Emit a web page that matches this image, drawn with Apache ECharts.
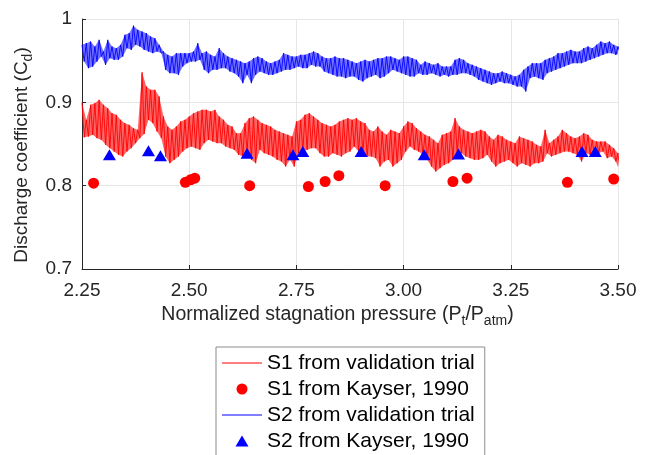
<!DOCTYPE html>
<html>
<head>
<meta charset="utf-8">
<script src="https://cdn.jsdelivr.net/npm/echarts@6/dist/echarts.min.js"></script>
<style>html,body{margin:0;padding:0;background:#fff}#c{width:645px;height:455px}</style>
</head>
<body>
<div id="c"></div>
<script>
// Sample positions (normalized stagnation pressure) for the trial traces
const sampleX = [
2.25,2.26,2.27,2.28,2.29,2.30,2.31,2.32,2.33,2.34,2.35,2.36,2.37,2.38,2.39,2.40,2.41,2.42,2.43,2.44,
2.45,2.46,2.47,2.48,2.49,2.50,2.51,2.52,2.53,2.54,2.55,2.56,2.57,2.58,2.59,2.60,2.61,2.62,2.63,2.64,
2.65,2.66,2.67,2.68,2.69,2.70,2.71,2.72,2.73,2.74,2.75,2.76,2.77,2.78,2.79,2.80,2.81,2.82,2.83,2.84,
2.85,2.86,2.87,2.88,2.89,2.90,2.91,2.92,2.93,2.94,2.95,2.96,2.97,2.98,2.99,3.00,3.01,3.02,3.03,3.04,
3.05,3.06,3.07,3.08,3.09,3.10,3.11,3.12,3.13,3.14,3.15,3.16,3.17,3.18,3.19,3.20,3.21,3.22,3.23,3.24,
3.25,3.26,3.27,3.28,3.29,3.30,3.31,3.32,3.33,3.34,3.35,3.36,3.37,3.38,3.39,3.40,3.41,3.42,3.43,3.44,
3.45,3.46,3.47,3.48,3.49,3.50];

// S1 validation trial: upper and lower excursions of the noisy trace
const s1High = [
.900,.879,.897,.899,.903,.897,.893,.887,.885,.879,
.875,.873,.869,.867,.936,.919,.915,.915,.907,.883,
.871,.867,.871,.877,.879,.883,.887,.889,.891,.891,
.889,.891,.883,.879,.873,.871,.863,.863,.875,.881,
.883,.879,.875,.873,.871,.867,.865,.863,.861,.859,
.877,.879,.885,.887,.883,.879,.875,.873,.871,.873,
.877,.879,.881,.879,.881,.877,.875,.867,.865,.871,
.865,.861,.867,.865,.863,.871,.877,.875,.869,.865,
.861,.859,.855,.851,.861,.863,.865,.881,.871,.867,
.865,.863,.865,.867,.865,.859,.855,.861,.859,.855,
.853,.851,.859,.857,.855,.853,.849,.847,.867,.851,
.855,.859,.867,.863,.859,.857,.859,.863,.861,.855,
.853,.853,.853,.849,.845,.839];
const s1Low = [
.858,.859,.861,.857,.855,.849,.845,.841,.837,.835,
.841,.845,.851,.857,.862,.879,.875,.865,.857,.835,
.827,.831,.835,.841,.845,.847,.845,.843,.851,.855,
.853,.851,.851,.847,.845,.843,.837,.835,.841,.831,
.827,.843,.839,.837,.835,.831,.829,.823,.831,.823,
.839,.841,.843,.845,.845,.839,.835,.835,.839,.837,
.835,.839,.841,.847,.841,.839,.835,.835,.833,.823,
.829,.831,.823,.827,.831,.841,.847,.843,.841,.837,
.831,.823,.817,.821,.825,.827,.831,.839,.839,.835,
.833,.831,.831,.833,.837,.829,.823,.827,.829,.831,
.827,.823,.827,.825,.823,.827,.827,.829,.839,.835,
.837,.839,.841,.841,.839,.837,.829,.839,.837,.835,
.839,.841,.833,.835,.829,.815];

// S2 validation trial
const s2High = [
.969,.971,.973,.967,.975,.961,.975,.967,.965,.969,
.981,.983,.992,.987,.985,.983,.979,.977,.969,.961,
.957,.955,.959,.959,.959,.959,.961,.971,.959,.961,
.957,.955,.965,.959,.955,.953,.951,.949,.947,.949,
.953,.955,.953,.949,.947,.949,.951,.959,.957,.955,
.955,.957,.957,.959,.961,.959,.955,.953,.953,.955,
.953,.953,.951,.949,.947,.949,.951,.949,.951,.953,
.953,.955,.955,.953,.951,.955,.955,.953,.951,.945,
.949,.947,.945,.947,.943,.943,.943,.951,.953,.951,
.947,.945,.943,.941,.939,.937,.935,.935,.937,.935,
.933,.931,.933,.939,.943,.947,.947,.947,.951,.953,
.955,.959,.959,.961,.963,.961,.961,.965,.967,.965,
.969,.973,.971,.973,.969,.967];
const s2Low = [
.949,.941,.943,.949,.955,.945,.953,.951,.951,.955,
.965,.963,.969,.967,.963,.961,.959,.961,.959,.939,
.935,.935,.933,.943,.947,.949,.949,.951,.939,.935,
.939,.939,.941,.941,.937,.935,.931,.923,.933,.923,
.933,.937,.935,.933,.933,.935,.937,.939,.939,.941,
.943,.941,.941,.945,.943,.943,.937,.935,.933,.931,
.931,.929,.931,.931,.927,.925,.929,.931,.933,.929,
.931,.935,.939,.937,.935,.933,.931,.931,.935,.933,
.933,.935,.933,.931,.933,.931,.933,.933,.935,.935,
.933,.931,.927,.925,.923,.921,.923,.925,.923,.923,
.921,.919,.919,.913,.929,.931,.929,.927,.935,.937,
.939,.941,.943,.945,.947,.947,.947,.949,.951,.953,
.955,.957,.959,.959,.957,.959];

// Kayser (1990) reference points
const s1KayserX = [2.277,2.491,2.503,2.513,2.641,2.778,2.817,2.849,2.957,3.115,3.148,3.382,3.490];
const s1KayserY = [0.803,0.804,0.807,0.809,0.800,0.799,0.805,0.812,0.800,0.805,0.809,0.804,0.808];
const s2KayserX = [2.314,2.405,2.433,2.635,2.742,2.765,2.901,3.048,3.128,3.416,3.447];
const s2KayserY = [0.837,0.842,0.836,0.839,0.837,0.841,0.841,0.837,0.838,0.841,0.841];

const xTicks = {min: 2.25, max: 3.5, interval: 0.25};
const yTicks = {min: 0.7, max: 1.0, interval: 0.1};

const seriesNames = ['S1 from validation trial','S1 from Kayser, 1990','S2 from validation trial','S2 from Kayser, 1990'];

function trace(xs, hi, lo) {
  const out = [];
  for (let i = 0; i < xs.length; i++) {
    out.push([xs[i], hi[i]]);
    out.push([xs[i] + 0.005, lo[i]]);
  }
  return out;
}
function pairs(xs, ys) { return xs.map((x, i) => [x, ys[i]]); }

const FONT = 'Liberation Sans, Arial, Helvetica, sans-serif';
const AX = '#262626';
const RED = '#ff0000', BLUE = '#0000ff';
const LINE_ICON = 'path://M0,0 L40,0 L40,1.2 L0,1.2 Z';
const TRI_ICON = 'path://M6.5,0 L13,11 L0,11 Z';

// Filled envelope of a noisy trace, drawn through the axis scales
function band(xs, hi, lo, color, op) {
  return {
    type: 'custom', coordinateSystem: 'cartesian2d', silent: true, z: 1,
    data: xs.map((x, i) => [x, lo[i], hi[i]]),
    encode: {x: 0, y: [1, 2]},
    renderItem: function (params, api) {
      if (params.dataIndex !== 0) return null;
      const pts = [];
      for (let i = 0; i < xs.length; i++) pts.push(api.coord([xs[i], hi[i]]));
      for (let i = xs.length - 1; i >= 0; i--) pts.push(api.coord([xs[i] + 0.005, lo[i]]));
      const cs = params.coordSys;
      return {
        type: 'polygon',
        shape: {points: pts},
        style: {fill: color, opacity: op, stroke: null},
        clipPath: {type: 'rect', shape: {x: cs.x, y: cs.y, width: cs.width, height: cs.height}}
      };
    }
  };
}

const chart = echarts.init(document.getElementById('c'), null, {renderer: 'canvas'});
chart.setOption({
  animation: false,
  backgroundColor: '#fff',
  grid: {left: 82, right: 27, top: 19, bottom: 186, containLabel: false},
  xAxis: {
    type: 'value', min: xTicks.min, max: xTicks.max, interval: xTicks.interval,
    name: 'Normalized stagnation pressure (P{s|t}/P{s|atm})',
    nameLocation: 'middle', nameGap: 27,
    nameTextStyle: {fontSize: 19.5, color: AX, fontFamily: FONT, padding: [0, 25, 0, 0],
      rich: {s: {fontSize: 14, color: AX, fontFamily: FONT, padding: [12,0,0,0]}}},
    axisLine: {lineStyle: {color: AX, width: 1}},
    axisTick: {inside: true, length: 4, lineStyle: {color: AX}},
    axisLabel: {fontSize: 19, color: AX, fontFamily: FONT, margin: 12,
      formatter: v => v.toFixed(2)},
    splitLine: {show: true, lineStyle: {color: '#e6e6e6', width: 1}}
  },
  yAxis: {
    type: 'value', min: yTicks.min, max: yTicks.max, interval: yTicks.interval,
    name: 'Discharge coefficient (C{s|d})',
    nameLocation: 'middle', nameGap: 41, nameRotate: 90,
    nameTextStyle: {fontSize: 19, color: AX, fontFamily: FONT, padding: [0, 22, 0, 0],
      rich: {s: {fontSize: 14, color: AX, fontFamily: FONT, padding: [12,0,0,0]}}},
    axisLine: {show: true, lineStyle: {color: AX, width: 1}},
    axisTick: {show: true, inside: true, length: 4, lineStyle: {color: AX}},
    axisLabel: {fontSize: 19, color: AX, fontFamily: FONT, margin: 10,
      formatter: v => (Math.abs(v - 1) < 1e-9 ? '1' : v.toFixed(1))},
    splitLine: {show: true, lineStyle: {color: '#e6e6e6', width: 1}}
  },
  legend: {
    orient: 'vertical', left: 216, top: 347, height: 130,
    padding: [3, 10, 3, 6], itemGap: 0, itemWidth: 40, itemHeight: 11,
    borderColor: '#8c8c8c', borderWidth: 1, backgroundColor: '#fff',
    textStyle: {fontSize: 21, color: '#000', fontFamily: FONT, lineHeight: 26},
    data: [
      {name: seriesNames[0], icon: LINE_ICON},
      {name: seriesNames[1], icon: 'circle'},
      {name: seriesNames[2], icon: LINE_ICON},
      {name: seriesNames[3], icon: TRI_ICON}
    ]
  },
  series: [
    band(sampleX, s1High, s1Low, RED, 0.6),
    band(sampleX, s2High, s2Low, BLUE, 0.55),
    {name: seriesNames[0], type: 'line', data: trace(sampleX, s1High, s1Low),
     symbol: 'none', lineStyle: {color: RED, width: 0.9}, itemStyle: {color: RED}, z: 2},
    {name: seriesNames[1], type: 'scatter', data: pairs(s1KayserX, s1KayserY),
     symbol: 'circle', symbolSize: 11, itemStyle: {color: RED, opacity: 1}, z: 4},
    {name: seriesNames[2], type: 'line', data: trace(sampleX, s2High, s2Low),
     symbol: 'none', lineStyle: {color: BLUE, width: 0.9}, itemStyle: {color: BLUE}, z: 2},
    {name: seriesNames[3], type: 'scatter', data: pairs(s2KayserX, s2KayserY),
     symbol: 'triangle', symbolSize: [13, 11], itemStyle: {color: BLUE, opacity: 1}, z: 5}
  ]
});
</script>
</body>
</html>
